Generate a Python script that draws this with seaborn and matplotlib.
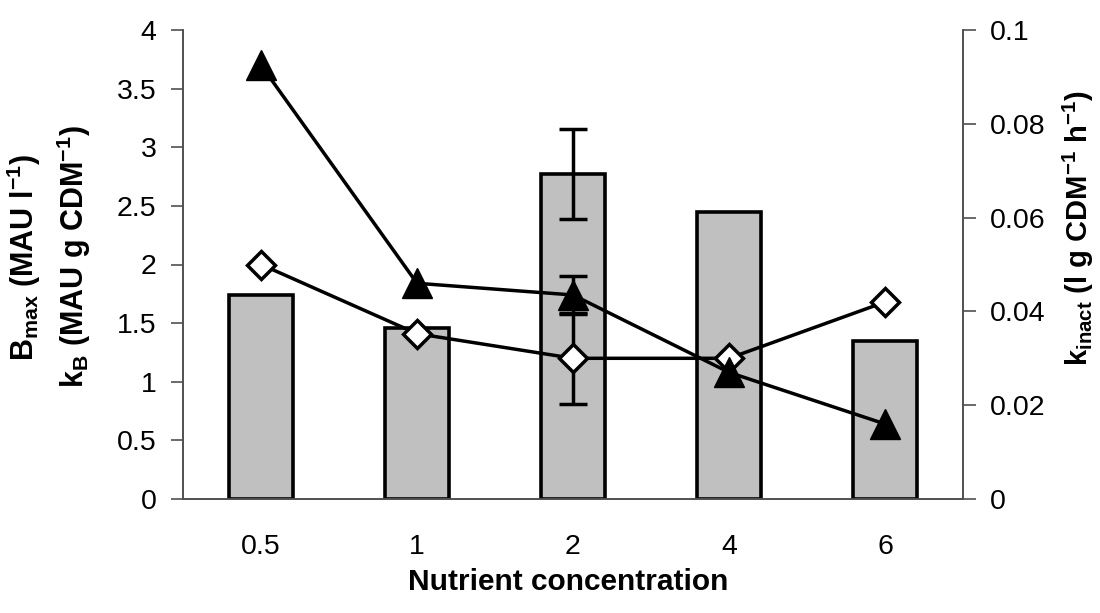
import numpy as np
import pandas as pd
import matplotlib
matplotlib.use("Agg")
import matplotlib.pyplot as plt
import seaborn as sns

# ---- data ----
categories = ["0.5", "1", "2", "4", "6"]
bmax = [1.74, 1.46, 2.77, 2.45, 1.35]          # bars (left axis)
bmax_err = [0, 0, 0.385, 0, 0]
kB = [2.00, 1.41, 1.20, 1.20, 1.68]            # diamonds (left axis)
kB_err = [0, 0, 0.39, 0, 0]
kinact = [0.0925, 0.046, 0.0435, 0.027, 0.016]  # triangles (right axis)
kinact_err = [0, 0, 0.0040, 0, 0]
left_ticks = [0, 0.5, 1, 1.5, 2, 2.5, 3, 3.5, 4]
left_ticklabels = ["0", "0.5", "1", "1.5", "2", "2.5", "3", "3.5", "4"]
right_ticks = [0, 0.02, 0.04, 0.06, 0.08, 0.1]
right_ticklabels = ["0", "0.02", "0.04", "0.06", "0.08", "0.1"]

sns.set_style("white")
plt.rcParams["font.family"] = ["Liberation Sans", "DejaVu Sans"]
plt.rcParams["mathtext.fontset"] = "custom"
plt.rcParams["mathtext.rm"] = "Liberation Sans:bold"
plt.rcParams["mathtext.default"] = "rm"
plt.rcParams["text.color"] = "black"
plt.rcParams["xtick.color"] = "black"
plt.rcParams["ytick.color"] = "black"

W, H = 1100, 613
fig = plt.figure(figsize=(11, 6.13), dpi=100)
x0, x1, y0, y1 = 183, 963, 30, 499
ax = fig.add_axes([x0 / W, 1 - y1 / H, (x1 - x0) / W, (y1 - y0) / H])

df = pd.DataFrame({"conc": categories, "bmax": bmax, "kB": kB, "kinact": kinact})
pos = np.arange(len(categories))
df["pos"] = pos

axis_col = "#505050"
sns.barplot(data=df, x="conc", y="bmax", order=categories, color="#c0c0c0",
            edgecolor="black", linewidth=2.6, width=0.41, saturation=1,
            errorbar=None, ax=ax, zorder=2)
# error bar on bars
idx = [i for i, e in enumerate(bmax_err) if e > 0]
ax.errorbar(pos[idx], np.array(bmax)[idx], yerr=np.array(bmax_err)[idx], fmt="none",
            ecolor="black", elinewidth=2.5, capsize=10, capthick=2.5, zorder=3)

# diamonds
sns.lineplot(data=df, x="pos", y="kB", ax=ax, color="black", linewidth=2.5,
             marker="D", markersize=14, markerfacecolor="white",
             markeredgecolor="black", markeredgewidth=2.5, zorder=4)
idx = [i for i, e in enumerate(kB_err) if e > 0]
ax.errorbar(pos[idx], np.array(kB)[idx], yerr=np.array(kB_err)[idx], fmt="none",
            ecolor="black", elinewidth=2.5, capsize=10, capthick=2.5, zorder=3)

ax.set_xlim(-0.5, len(categories) - 0.5)
ax.set_ylim(0, 4)
ax.set_yticks(left_ticks)
ax.set_yticklabels(left_ticklabels)
ax.set_xticks(pos)
ax.set_xticklabels(categories)
ax.set_xticks(np.arange(-0.5, len(categories)), minor=True)
ax.tick_params(axis="x", which="major", length=0, pad=25, labelsize=20.5, labelcolor="black")
ax.tick_params(axis="x", which="minor", length=7, width=1.2, color=axis_col, direction="out")
ax.tick_params(axis="y", length=9, width=1.2, color=axis_col, direction="out",
               pad=10, labelsize=20.5, left=True, labelcolor="black")
ax.set_xlabel("")
ax.set_ylabel("")
ax.spines["top"].set_visible(False)
for s in ["left", "bottom", "right"]:
    ax.spines[s].set_color(axis_col)
    ax.spines[s].set_linewidth(1.2)
ax.grid(False)

# right axis
ax2 = ax.twinx()
sns.lineplot(data=df, x="pos", y="kinact", ax=ax2, color="black", linewidth=2.5,
             marker="^", markersize=21, markerfacecolor="black",
             markeredgecolor="black", markeredgewidth=1, zorder=4)
idx = [i for i, e in enumerate(kinact_err) if e > 0]
ax2.errorbar(pos[idx], np.array(kinact)[idx], yerr=np.array(kinact_err)[idx], fmt="none",
             ecolor="black", elinewidth=2.5, capsize=10, capthick=2.5, zorder=3)
ax2.set_ylim(0, 0.1)
ax2.set_yticks(right_ticks)
ax2.set_yticklabels(right_ticklabels)
ax2.tick_params(axis="y", length=9, width=1.2, color=axis_col, direction="out",
                pad=10, labelsize=20.5, right=True, labelcolor="black")
ax2.set_ylabel("")
ax2.set_xlabel("")
ax2.spines["top"].set_visible(False)
for s in ["left", "bottom", "right"]:
    ax2.spines[s].set_color(axis_col)
    ax2.spines[s].set_linewidth(1.2)
ax2.grid(False)

# labels
fig.text(568 / W, 1 - 582 / H, "Nutrient concentration", ha="center", va="center",
         fontsize=21.5, fontweight="bold", color="black")
fig.text(49 / W, 1 - 257 / H,
         "B$_{max}$ (MAU l$^{-1}$)\nk$_{B}$ (MAU g CDM$^{-1}$)",
         ha="center", va="center", rotation=90, fontsize=22, fontweight="bold",
         linespacing=1.4, multialignment="center", color="black")
fig.text(1078 / W, 1 - 228 / H, "k$_{inact}$ (l g CDM$^{-1}$ h$^{-1}$)",
         ha="center", va="center", rotation=90, fontsize=21, fontweight="bold",
         color="black")

fig.savefig("out.png", dpi=100, facecolor="white")
